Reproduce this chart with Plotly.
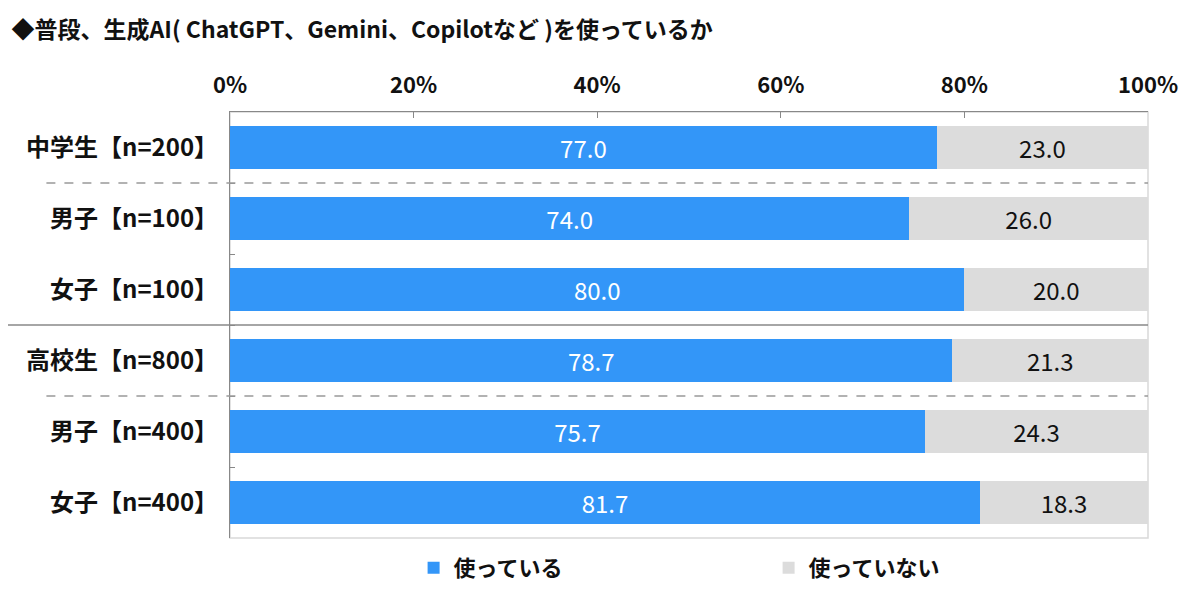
import plotly.graph_objects as go

# data
groups = ["中学生【n=200】", "男子【n=100】", "女子【n=100】",
          "高校生【n=800】", "男子【n=400】", "女子【n=400】"]
using = [77.0, 74.0, 80.0, 78.7, 75.7, 81.7]
not_using = [23.0, 26.0, 20.0, 21.3, 24.3, 18.3]
series_names = ["使っている", "使っていない"]
xticks = [0, 20, 40, 60, 80, 100]

font = "Noto Sans CJK JP"
blue = "#3396F8"
gray = "#DCDCDC"

fig = go.Figure()
fig.add_trace(go.Bar(
    y=groups, x=using, name=f"<b>{series_names[0]}</b>", orientation="h",
    marker=dict(color=blue, line=dict(width=0)), width=0.6,
    text=[f"{v:.1f}" for v in using], textposition="inside",
    insidetextanchor="middle",
    textfont=dict(color="white", size=24, family=font),
))
fig.add_trace(go.Bar(
    y=groups, x=not_using, name=f"<b>{series_names[1]}</b>", orientation="h",
    marker=dict(color=gray, line=dict(width=0)), width=0.6,
    text=[f"{v:.1f}" for v in not_using], textposition="inside",
    insidetextanchor="middle",
    textfont=dict(color="#111111", size=24, family=font),
))

# separators between groups
seps = [(0.5, "dash", "#999999", -0.2), (2.5, "solid", "#888888", -0.26), (3.5, "dash", "#999999", -0.2)]
for yv, dash, col, x0 in seps:
    fig.add_shape(type="line", xref="paper", yref="y", x0=x0, x1=1, y0=yv, y1=yv,
                  line=dict(color=col, width=1.3, dash=dash))

# light frame on right/bottom
fig.add_shape(type="rect", xref="paper", yref="paper", x0=0, x1=1, y0=0, y1=1,
              line=dict(color="#D9D9D9", width=1.5), layer="below")

fig.update_layout(
    barmode="stack",
    width=1200, height=593,
    margin=dict(l=222, r=60, t=104, b=63),
    paper_bgcolor="white", plot_bgcolor="white",
    font=dict(family=font, color="#111111"),
    title=dict(text="<b>◆普段、生成AI( ChatGPT、Gemini、Copilotなど )を使っているか</b>",
               x=0.003, xref="container", y=0.963, yref="container",
               xanchor="left", yanchor="middle",
               font=dict(size=23, family=font, color="#111111")),
    xaxis=dict(side="top", range=[0, 100], tickvals=xticks,
               ticktext=[f"<b>{v}%</b>" for v in xticks],
               showgrid=False, zeroline=False, automargin=False,
               showline=True, linecolor="#888888", linewidth=1.3,
               ticks="inside", ticklen=6, tickcolor="#888888",
               ticklabelstandoff=9,
               tickfont=dict(size=22, family=font, color="#111111")),
    yaxis=dict(autorange="reversed", showgrid=False, zeroline=False, automargin=False,
               tickvals=groups, ticktext=[f"<b>{g}</b>" for g in groups],
               showline=True, linecolor="#888888", linewidth=1.3,
               ticks="inside", ticklen=5, tickcolor="#888888", tickson="boundaries",
               ticklabelstandoff=6,
               tickfont=dict(size=24, family=font, color="#111111")),
    legend=dict(orientation="h", x=0.2, xanchor="left",
                y=0.0557, yref="container", yanchor="middle",
                entrywidth=310, entrywidthmode="pixels",
                font=dict(size=22, family=font, color="#111111"),
                itemsizing="constant", traceorder="normal"),
    showlegend=True,
)

fig.write_html("out.html")
